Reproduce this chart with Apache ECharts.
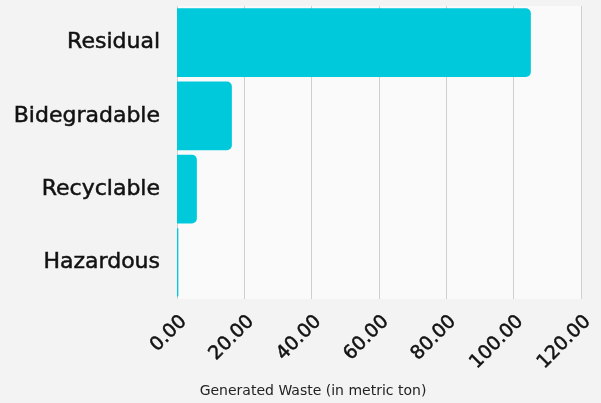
<!DOCTYPE html>
<html><head><meta charset="utf-8">
<script src="https://cdn.jsdelivr.net/npm/echarts@6/dist/echarts.min.js"></script>
<style>html,body{margin:0;padding:0;background:#f3f3f3;}#c{width:601px;height:403px;}</style>
</head><body><div id="c"></div>
<script>
const categories = ["Residual", "Bidegradable", "Recyclable", "Hazardous"];
const values = [105.1, 16.3, 5.9, 0.4];
const tickLabels = ["0.00", "20.00", "40.00", "60.00", "80.00", "100.00", "120.00"];
const axisName = "Generated Waste (in metric ton)";

const chart = echarts.init(document.getElementById('c'), null, {renderer: 'canvas'});
chart.setOption({
  backgroundColor: '#f3f3f3',
  animation: false,
  grid: {left: 177, right: 20, top: 6, bottom: 102, show: true, backgroundColor: '#fafafa', borderWidth: 0},
  xAxis: {
    type: 'value', min: 0, max: 120, interval: 20,
    axisLine: {show: false}, axisTick: {show: false},
    splitLine: {lineStyle: {color: '#cfcfcf', width: 1}},
    axisLabel: {rotate: 45, margin: 13, verticalAlign: 'top', fontFamily: 'DejaVu Sans', fontSize: 19, color: '#111',
      textBorderColor: '#111', textBorderWidth: 0.5,
      formatter: v => tickLabels[Math.round(v / 20)]},
    name: axisName, nameLocation: 'middle', nameGap: 85,
    nameTextStyle: {fontFamily: 'DejaVu Sans', fontSize: 14, color: '#222', padding: [0, 132, 0, 0]}
  },
  yAxis: {
    type: 'category', data: categories, inverse: true,
    axisLine: {show: false}, axisTick: {show: false},
    axisLabel: {margin: 17, fontFamily: 'DejaVu Sans', fontSize: 22, color: '#111',
      padding: [4, 0, 0, 0],
      textBorderColor: '#111', textBorderWidth: 0.5}
  },
  series: [{
    type: 'bar', data: values, barCategoryGap: '6%',
    itemStyle: {color: '#00c9db', borderRadius: [0, 5, 5, 0]}
  }]
});
</script></body></html>
